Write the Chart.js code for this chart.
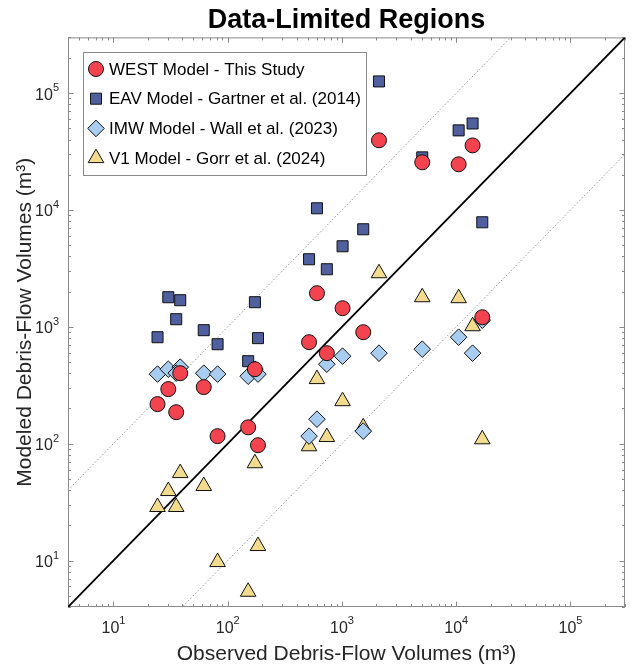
<!DOCTYPE html>
<html>
<head>
<meta charset="utf-8">
<script src="https://cdn.jsdelivr.net/npm/chart.js@4"></script>
<style>
  html, body { margin: 0; padding: 0; background: #fff; }
  #wrap { width: 635px; height: 669px; }
</style>
</head>
<body>
<div id="wrap"><canvas id="chart" width="635" height="669"></canvas></div>
<script>
// Observed vs modeled debris-flow volumes (m3), one entry per event
const observed = [24.3, 30.2, 38.4, 35.4, 61.7, 81.5, 151, 173, 184, 515, 604, 737, 1012, 1535, 2108, 5043, 10500, 13900, 16900];
const westModel = [218, 293, 401, 186, 305, 116, 138, 434, 97, 739, 1940, 595, 1443, 900, 39500, 25600, 24600, 35700, 1208];
const eavModel = [815, 1792, 1690, 1162, 936, 710, 508, 1625, 800, 3787, 10340, 3112, 4893, 6840, 126000, 28200, 48000, 55000, 7850];
const imwModel = [394, 434, 452, 402, 401, 394, 378, 434, 394, 116, 162, 479, 561, 128, 595, 644, 815, 595, 1140];
const v1Model = [28.7, 39.3, 56, 28.7, 43.4, 9.7, 5.4, 68, 13.3, 95, 357, 114, 231, 138, 2875, 1792, 1758, 1012, 109];

// axis limits and decade ticks
const axisMin = 4;
const axisMax = 3e5;
const majorTicks = [10, 100, 1000, 10000, 100000];

const FONT = "'Liberation Sans', Arial, Helvetica, sans-serif";
Chart.defaults.font.family = FONT;

const pts = (ys) => observed.map((v, i) => ({ x: v, y: ys[i] }));
const refLine = (f) => [{ x: axisMin, y: axisMin * f }, { x: axisMax / Math.max(f, 1), y: axisMax * Math.min(f, 1) }];

const series = [
  { label: 'WEST Model - This Study', data: pts(westModel), pointStyle: 'circle', pointRadius: 7.5, backgroundColor: '#f2434f' },
  { label: 'EAV Model - Gartner et al. (2014)', data: pts(eavModel), pointStyle: 'rect', pointRadius: 7.8, backgroundColor: '#4f5f9f' },
  { label: 'IMW Model - Wall et al. (2023)', data: pts(imwModel), pointStyle: 'rectRot', pointRadius: 8.3, backgroundColor: '#a8cdf0' },
  { label: 'V1 Model - Gorr et al. (2024)', data: pts(v1Model), pointStyle: 'triangle', pointRadius: 9, backgroundColor: '#f3db8d' },
];

const datasets = series.map(s => Object.assign({
  type: 'scatter', borderColor: '#111', borderWidth: 1, pointBorderWidth: 1,
  pointHoverRadius: s.pointRadius, order: 0
}, s));

// 1:1 line and factor-of-ten bands
datasets.push(
  { type: 'line', data: refLine(1), borderColor: '#000', borderWidth: 1.8, pointRadius: 0, order: 1, fill: false },
  { type: 'line', data: refLine(10), borderColor: '#9a9a9a', borderWidth: 1, borderDash: [1.5, 2], pointRadius: 0, order: 1, fill: false },
  { type: 'line', data: refLine(0.1), borderColor: '#9a9a9a', borderWidth: 1, borderDash: [1.5, 2], pointRadius: 0, order: 1, fill: false }
);

function minorTicks() {
  const out = [];
  for (let d = 1; d <= 1e5; d *= 10) {
    for (let k = 2; k <= 9; k++) {
      const v = k * d;
      if (v >= axisMin && v <= axisMax) out.push(v);
    }
  }
  return out;
}

function marker(ctx, ds, x, y) {
  ctx.save();
  ctx.fillStyle = ds.backgroundColor;
  ctx.strokeStyle = ds.borderColor;
  ctx.lineWidth = 1;
  if (Chart.helpers && Chart.helpers.drawPoint) {
    Chart.helpers.drawPoint(ctx, { pointStyle: ds.pointStyle, radius: ds.pointRadius, borderWidth: 1, rotation: 0 }, x, y);
  }
  ctx.restore();
}

const frame = {
  id: 'frame',
  beforeDatasetsDraw(chart) {
    const { ctx, chartArea: a, scales: { x, y } } = chart;
    ctx.save();
    ctx.strokeStyle = '#8a8a8a';
    ctx.lineWidth = 1;
    ctx.strokeRect(a.left + 0.5, a.top + 0.5, a.right - a.left - 1, a.bottom - a.top - 1);
    ctx.beginPath();
    const all = majorTicks.map(v => [v, 5.5]).concat(minorTicks().map(v => [v, 3]));
    all.forEach(([v, len]) => {
      const px = Math.round(x.getPixelForValue(v)) + 0.5;
      ctx.moveTo(px, a.bottom); ctx.lineTo(px, a.bottom - len);
      ctx.moveTo(px, a.top); ctx.lineTo(px, a.top + len);
      const py = Math.round(y.getPixelForValue(v)) + 0.5;
      ctx.moveTo(a.left, py); ctx.lineTo(a.left + len, py);
      ctx.moveTo(a.right, py); ctx.lineTo(a.right - len, py);
    });
    ctx.stroke();
    ctx.restore();
  },
  afterDraw(chart) {
    const { ctx, chartArea: a, scales: { x, y } } = chart;
    ctx.save();
    ctx.fillStyle = '#262626';
    ctx.textBaseline = 'alphabetic';
    majorTicks.forEach(v => {
      const e = String(Math.round(Math.log10(v)));
      ctx.font = '16px ' + FONT;
      const wb = ctx.measureText('10').width;
      ctx.font = '11px ' + FONT;
      const we = ctx.measureText(e).width;
      // x labels
      let sx = x.getPixelForValue(v) - (wb + we) / 2;
      ctx.font = '16px ' + FONT;
      ctx.fillText('10', sx, a.bottom + 26);
      ctx.font = '11px ' + FONT;
      ctx.fillText(e, sx + wb, a.bottom + 17);
      // y labels
      const py = y.getPixelForValue(v);
      sx = a.left - 9 - (wb + we);
      ctx.font = '16px ' + FONT;
      ctx.fillText('10', sx, py + 6.5);
      ctx.font = '11px ' + FONT;
      ctx.fillText(e, sx + wb, py - 2);
    });

    // legend
    const lx = 83, ly = 52, lw = 283, lh = 123;
    ctx.fillStyle = '#fff';
    ctx.fillRect(lx, ly, lw, lh);
    ctx.strokeStyle = '#8a8a8a';
    ctx.lineWidth = 1;
    ctx.strokeRect(lx + 0.5, ly + 0.5, lw, lh);
    chart.data.datasets.slice(0, series.length).forEach((ds, i) => {
      const cy = 69 + i * 29.7;
      marker(ctx, ds, 96, cy);
      ctx.fillStyle = '#000';
      ctx.font = '17px ' + FONT;
      ctx.textBaseline = 'middle';
      ctx.fillText(ds.label, 109, cy + 1);
    });
    ctx.restore();
  }
};

new Chart(document.getElementById('chart'), {
  data: { datasets },
  options: {
    responsive: false,
    animation: false,
    layout: { padding: { right: 1 } },
    plugins: {
      legend: { display: false },
      tooltip: { enabled: false },
      title: {
        display: true,
        fullSize: false,
        text: 'Data-Limited Regions',
        color: '#000',
        font: { size: 27, weight: 'bold' },
        padding: { top: 4, bottom: 1 }
      }
    },
    scales: {
      x: {
        type: 'logarithmic', min: axisMin, max: axisMax,
        grid: { display: false, drawTicks: false },
        border: { display: false },
        ticks: { display: false },
        title: { display: true, text: 'Observed Debris-Flow Volumes (m³)', color: '#262626', font: { size: 21 }, padding: { top: 35, bottom: 1.8 } }
      },
      y: {
        type: 'logarithmic', min: axisMin, max: axisMax,
        grid: { display: false, drawTicks: false },
        border: { display: false },
        ticks: { display: false },
        title: { display: true, text: 'Modeled Debris-Flow Volumes (m³)', color: '#262626', font: { size: 21 }, padding: { top: 12.4, bottom: 30.4 } }
      }
    }
  },
  plugins: [frame]
});
</script>
</body>
</html>
